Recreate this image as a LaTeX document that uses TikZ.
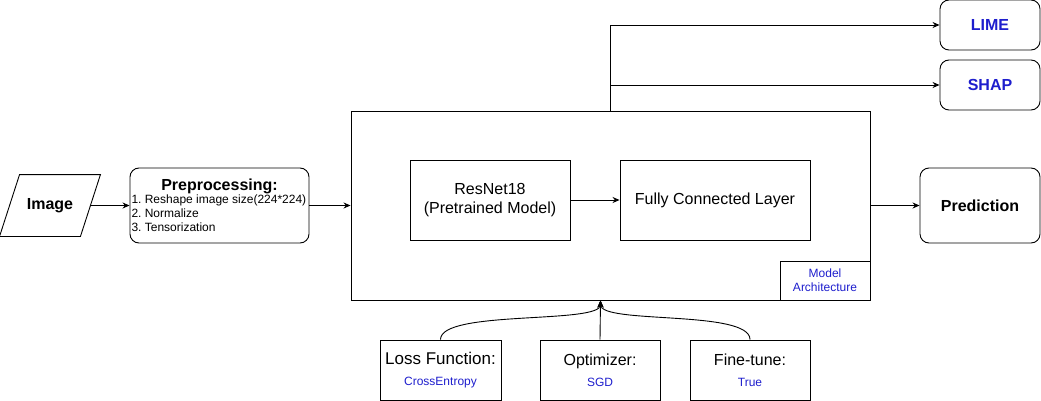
\documentclass[tikz,border=0pt]{standalone}
\usepackage{fontspec}
\setmainfont{Liberation Sans}
\usepackage{tikz}
\usetikzlibrary{arrows.meta,shapes,positioning}
\definecolor{labelblue}{RGB}{30,30,205}
\frenchspacing

\begin{document}
\begin{tikzpicture}[x=1pt, y=-1pt, >={Stealth[length=7pt,width=6pt]}, line width=0.9pt]
\tikzstyle{block}=[draw, shape=rectangle, inner sep=1pt, align=center, font=\fontsize{16}{19}\selectfont]
\tikzstyle{roundblock}=[block, rounded corners=9pt]
\tikzstyle{bold}=[font=\bfseries\fontsize{16}{19}\selectfont]
\newcommand{\subtext}[1]{{\fontsize{12}{14}\selectfont\color{labelblue}#1}}
\newcommand{\stepline}[1]{\makebox[176pt][l]{\fontsize{12}{14}\selectfont #1}}
\useasboundingbox (0,0) rectangle (1041,401);

% input parallelogram
\node[inner sep=0pt, minimum width=80pt, minimum height=61pt, bold] (0) at (50,205.5) {Image};
\draw ([xshift=10pt]0.north west) -- ([xshift=10pt]0.north east) -- ([xshift=-10pt]0.south east) -- ([xshift=-10pt]0.south west) -- cycle;

\node[roundblock, minimum width=179pt, minimum height=75pt, font=\fontsize{12}{14}\selectfont] (1) at (219.5,205.5) {{\bfseries\fontsize{16}{18}\selectfont Preprocessing:}\\[-1pt]
\stepline{1. Reshape image size(224*224)}\\\stepline{2. Normalize}\\\stepline{3. Tensorization}};
\node[block, minimum width=519pt, minimum height=189pt] (2) at (610.5,205.5) {};
\node[block, minimum width=160pt, minimum height=80pt] (3) at (490,200) {ResNet18\\(Pretrained Model)};
\node[block, minimum width=190pt, minimum height=80pt] (4) at (715,200) {Fully Connected Layer};
\node[block, minimum width=90pt, minimum height=39pt, font=\fontsize{12}{14}\selectfont, text=labelblue] (5) at (825,280.5) {Model\\Architecture};
\node[roundblock, bold, minimum width=120pt, minimum height=75pt] (6) at (980,205.5) {Prediction};
\node[roundblock, bold, text=labelblue, minimum width=100pt, minimum height=50pt] (7) at (990,25) {LIME};
\node[roundblock, bold, text=labelblue, minimum width=100pt, minimum height=50pt] (8) at (990,85) {SHAP};
\node[block, minimum width=121pt, minimum height=60pt] (9) at (440.5,370) {{\fontsize{17}{19}\selectfont Loss Function:}\\[2pt]\subtext{CrossEntropy}};
\node[block, minimum width=120pt, minimum height=60pt] (10) at (600,370) {Optimizer:\\[2pt]\subtext{SGD}};
\node[block, minimum width=120pt, minimum height=60pt] (11) at (750,370) {Fine-tune:\\[2pt]\subtext{True}};

\draw[->] (0.east) -- (1.west);
\draw[->] (1.east) -- (1.east -| 2.west);
\draw[->] (3.east) -- (4.west);
\draw[->] (2.east |- 6.west) -- (6.west);
\draw[->] (2.north) |- (7.west);
\draw[->] (2.north) |- (8.west);

% training settings
\draw[->] (9.north) .. controls +(0,-30) and +(0,24) .. ([xshift=-10pt]2.south);
\draw[->] (10.north) -- ([xshift=-10pt]2.south);
\draw[->] (11.north) .. controls +(0,-30) and +(0,24) .. ([xshift=-10pt]2.south);

\end{tikzpicture}
\end{document}
